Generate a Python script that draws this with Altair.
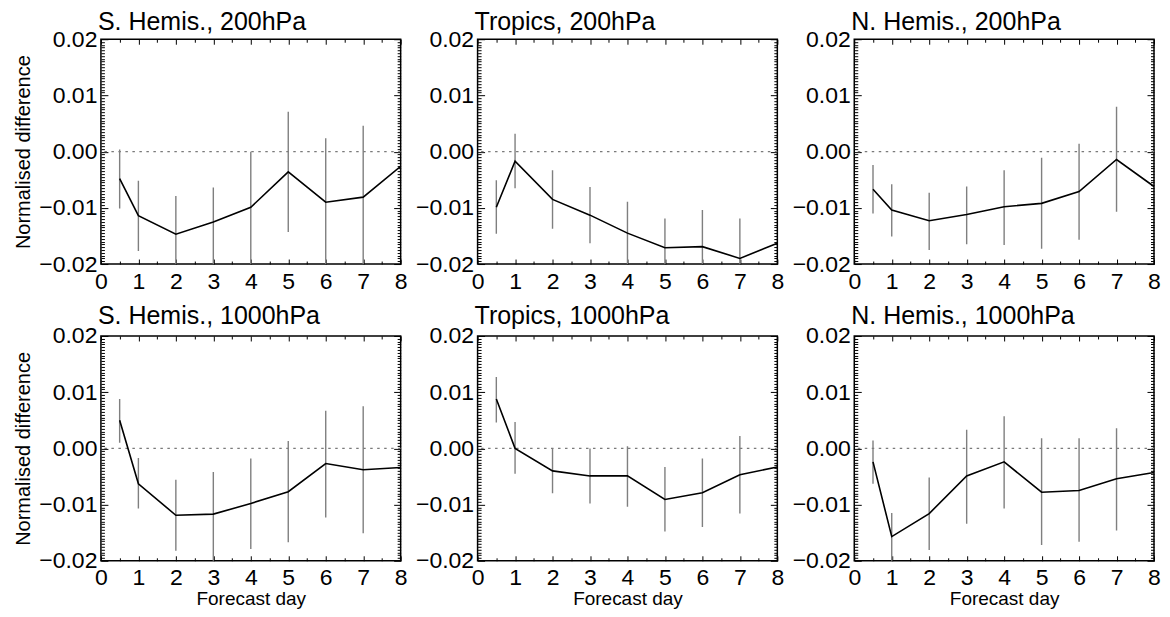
import altair as alt
import pandas as pd

days = [0.5, 1, 2, 3, 4, 5, 6, 7, 8]
err_days = [0.5, 1, 2, 3, 4, 5, 6, 7]

titles = ["S. Hemis., 200hPa", "Tropics, 200hPa", "N. Hemis., 200hPa",
          "S. Hemis., 1000hPa", "Tropics, 1000hPa", "N. Hemis., 1000hPa"]

sh200 = [-0.0048, -0.0114, -0.0147, -0.0125, -0.0099, -0.0036, -0.0090, -0.0081, -0.0026]
sh200_lo = [-0.0101, -0.0177, -0.0215, -0.0210, -0.0210, -0.0143, -0.0210, -0.0210]
sh200_hi = [0.0004, -0.0052, -0.0079, -0.0064, 0.0000, 0.0071, 0.0024, 0.0046]

tr200 = [-0.0099, -0.0017, -0.0085, -0.0113, -0.0145, -0.0171, -0.0169, -0.0190, -0.0163]
tr200_lo = [-0.0146, -0.0065, -0.0137, -0.0163, -0.0210, -0.0210, -0.0210, -0.0210]
tr200_hi = [-0.0051, 0.0032, -0.0033, -0.0063, -0.0089, -0.0119, -0.0104, -0.0119]

nh200 = [-0.0067, -0.0104, -0.0123, -0.0112, -0.0098, -0.0092, -0.0071, -0.0014, -0.0062]
nh200_lo = [-0.0110, -0.0151, -0.0175, -0.0165, -0.0166, -0.0173, -0.0157, -0.0107]
nh200_hi = [-0.0024, -0.0058, -0.0073, -0.0062, -0.0033, -0.0011, 0.0014, 0.0080]

sh1000 = [0.0050, -0.0063, -0.0119, -0.0117, -0.0098, -0.0077, -0.0027, -0.0038, -0.0034]
sh1000_lo = [0.0010, -0.0107, -0.0182, -0.0210, -0.0179, -0.0167, -0.0123, -0.0151]
sh1000_hi = [0.0088, -0.0017, -0.0056, -0.0042, -0.0018, 0.0013, 0.0067, 0.0075]

tr1000 = [0.0088, 0.0000, -0.0040, -0.0049, -0.0049, -0.0091, -0.0079, -0.0047, -0.0033]
tr1000_lo = [0.0046, -0.0045, -0.0080, -0.0098, -0.0104, -0.0148, -0.0140, -0.0116]
tr1000_hi = [0.0127, 0.0047, 0.0000, 0.0000, 0.0004, -0.0033, -0.0018, 0.0022]

nh1000 = [-0.0024, -0.0157, -0.0116, -0.0049, -0.0024, -0.0078, -0.0075, -0.0054, -0.0043]
nh1000_lo = [-0.0063, -0.0210, -0.0181, -0.0134, -0.0107, -0.0172, -0.0166, -0.0146]
nh1000_hi = [0.0014, -0.0115, -0.0052, 0.0033, 0.0057, 0.0018, 0.0018, 0.0036]

x_major = [0, 1, 2, 3, 4, 5, 6, 7, 8]
x_minor = [0.5, 1.5, 2.5, 3.5, 4.5, 5.5, 6.5, 7.5]
y_major = [-0.02, -0.01, 0.0, 0.01, 0.02]
y_minor = [round(-0.02 + 0.0005 * i, 4) for i in range(81) if i % 20 != 0]

series = [(sh200, sh200_lo, sh200_hi), (tr200, tr200_lo, tr200_hi), (nh200, nh200_lo, nh200_hi),
          (sh1000, sh1000_lo, sh1000_hi), (tr1000, tr1000_lo, tr1000_hi), (nh1000, nh1000_lo, nh1000_hi)]

FONT = "Liberation Sans"
W, H = 300, 225
LABEL_SIZE = 23


def xaxis(orient, values, size, labels=False, title=None):
    kw = dict(orient=orient, values=values, tickSize=size, offset=-size, domain=False,
              grid=False, labels=labels, tickColor="black", tickWidth=1)
    if labels:
        kw.update(format="d", labelPadding=6, labelFontSize=LABEL_SIZE, labelColor="black",
                  labelFont=FONT, labelFlush=False)
    if title:
        kw.update(title=title, titleFontSize=19, titlePadding=0, titleFont=FONT,
                  titleFontWeight="normal", titleColor="black")
    else:
        kw.update(title=None)
    return alt.Axis(**kw)


def yaxis(orient, values, size, labels=False, title=None):
    kw = dict(orient=orient, values=values, tickSize=size, offset=-size, domain=False,
              grid=False, labels=labels, tickColor="black", tickWidth=1)
    if labels:
        kw.update(format=".2f", labelPadding=4, labelFontSize=LABEL_SIZE, labelColor="black",
                  labelFont=FONT, labelFlush=False)
    if title:
        kw.update(title=title, titleFontSize=20, titlePadding=5, titleFont=FONT,
                  titleFontWeight="normal", titleColor="black")
    else:
        kw.update(title=None)
    return alt.Axis(**kw)


def panel(idx):
    vals, lo, hi = series[idx]
    row, col = divmod(idx, 3)
    xs = alt.Scale(domain=[0, 8], nice=False, zero=False)
    ys = alt.Scale(domain=[-0.02, 0.02], nice=False, zero=False)
    df_line = pd.DataFrame({"day": days, "v": vals})
    df_err = pd.DataFrame({"day": err_days, "lo": lo, "hi": hi})
    df_zero = pd.DataFrame({"z": [0.0]})

    zero = alt.Chart(df_zero).mark_rule(color="#7a7a7a", strokeWidth=1.2, strokeDash=[2.5, 4.5]).encode(
        y=alt.Y("z:Q", scale=ys, axis=yaxis("right", y_major, 7))
    )
    errs = alt.Chart(df_err).mark_rule(color="#7f7f7f", strokeWidth=1.4, clip=True).encode(
        x=alt.X("day:Q", scale=xs,
                axis=xaxis("bottom", x_major, 5, labels=True,
                           title="Forecast day" if row == 1 else None)),
        y=alt.Y("lo:Q", scale=ys,
                axis=yaxis("left", y_major, 7, labels=True,
                           title="Normalised difference" if col == 0 else None)),
        y2="hi:Q",
    )
    line = alt.Chart(df_line).mark_line(color="black", strokeWidth=1.6, clip=True).encode(
        x=alt.X("day:Q", scale=xs, axis=xaxis("bottom", x_minor, 3)),
        y=alt.Y("v:Q", scale=ys, axis=yaxis("left", y_minor, 3.5)),
    )
    ghost1 = alt.Chart(df_line).mark_point(opacity=0).encode(
        x=alt.X("day:Q", scale=xs, axis=xaxis("top", x_major, 5)),
        y=alt.Y("v:Q", scale=ys, axis=yaxis("right", y_minor, 3.5)),
    )
    ghost2 = alt.Chart(df_line).mark_point(opacity=0).encode(
        x=alt.X("day:Q", scale=xs, axis=xaxis("top", x_minor, 3)),
        y=alt.Y("v:Q", scale=ys, axis=None),
    )
    return alt.layer(zero, errs, line, ghost1, ghost2).resolve_axis(
        x="independent", y="independent"
    ).properties(
        width=W, height=H,
        title=alt.TitleParams(titles[idx], anchor="start", frame="group", fontSize=25, font=FONT,
                              fontWeight="normal", color="black",
                              offset=-7 if row == 0 else -4, dx=-3),
    )


chart = alt.concat(*[panel(i) for i in range(6)], columns=3,
                   spacing={"row": 72, "column": 77}, bounds="flush").properties(
    background="white",
    padding={"left": 5, "top": 1, "right": 0, "bottom": 0},
).configure_view(stroke="black", strokeWidth=1.5)

chart.save("out.html", embed_options={"renderer": "svg", "actions": False})
